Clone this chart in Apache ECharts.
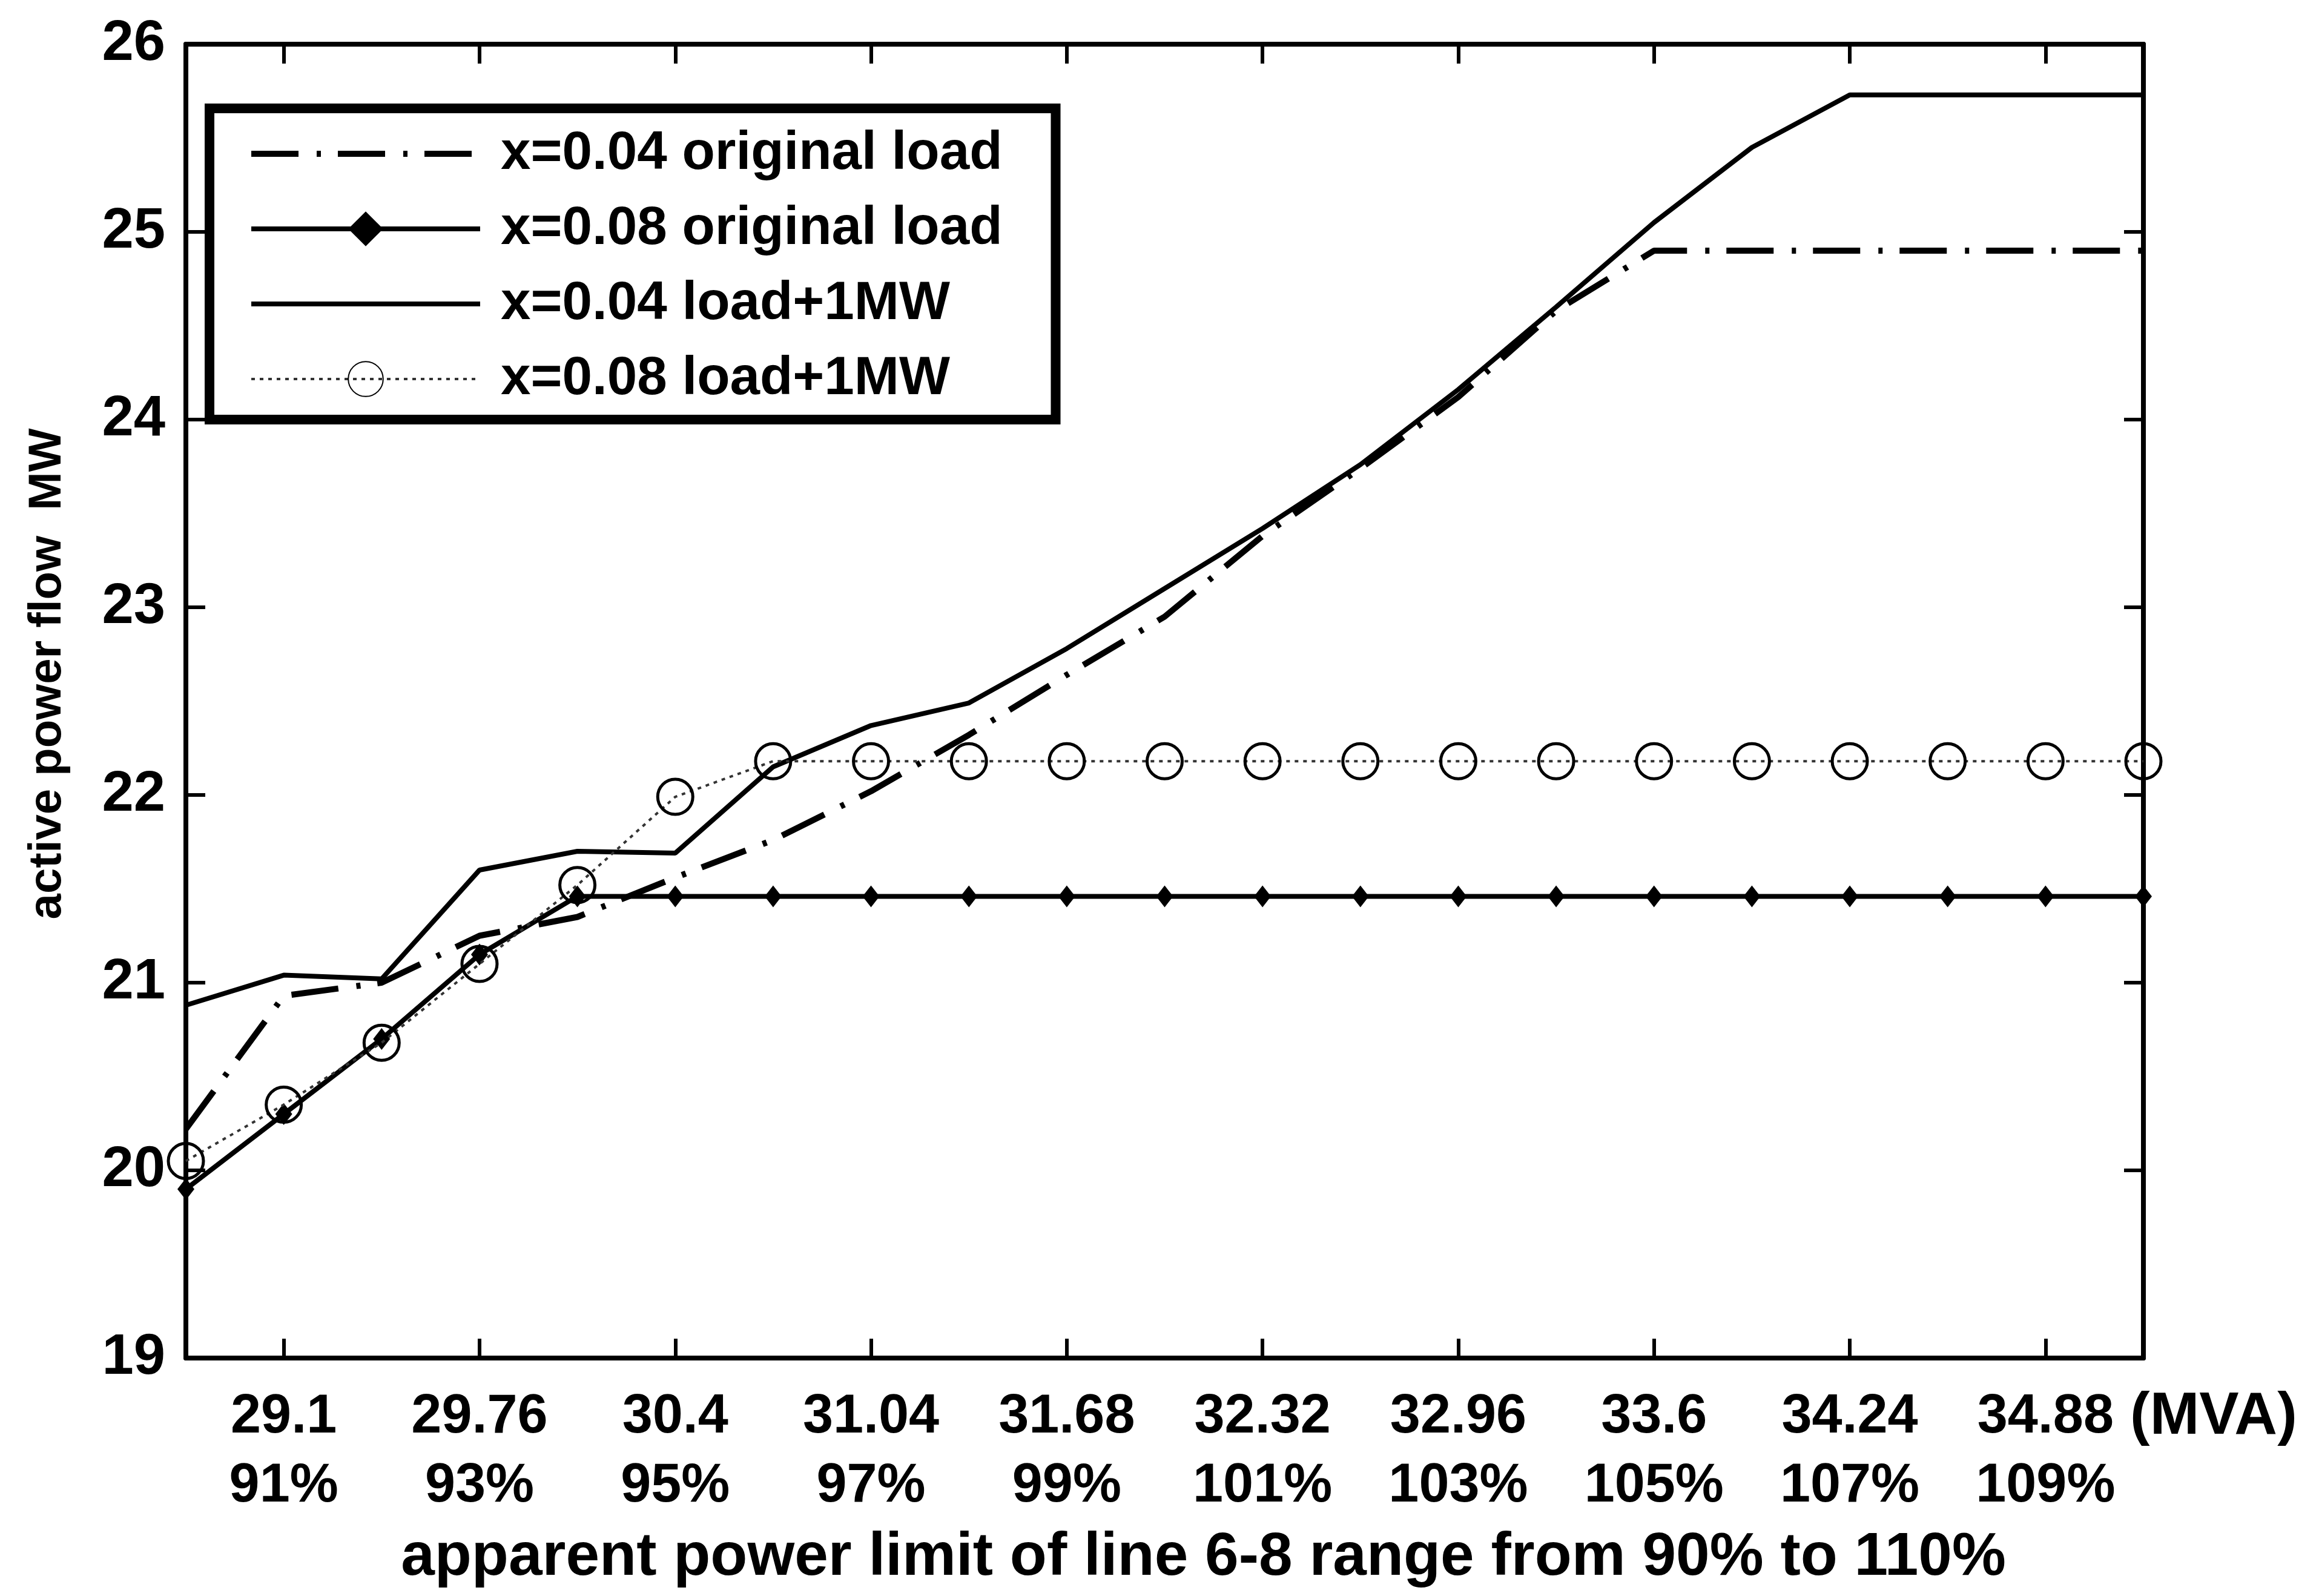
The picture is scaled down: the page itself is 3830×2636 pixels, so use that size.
<!DOCTYPE html>
<html>
<head>
<meta charset="utf-8">
<script src="https://cdn.jsdelivr.net/npm/echarts@6/dist/echarts.min.js"></script>
<style>
    html, body { margin: 0; padding: 0; background: #fff; }
    #chart { width: 3830px; height: 2636px; }
</style>
</head>
<body>
<div id="chart"></div>
<script>
// apparent power limit, percent of rating (one point per 1 %)
const pctPoints = [90, 91, 92, 93, 94, 95, 96, 97, 98, 99, 100,
    101, 102, 103, 104, 105, 106, 107, 108, 109, 110];

// tick labels, shown on every second point (91 %, 93 % ...)
const mvaTicks = ['29.1', '29.76', '30.4', '31.04', '31.68', '32.32', '32.96', '33.6', '34.24', '34.88'];
const pctTicks = ['91%', '93%', '95%', '97%', '99%', '101%', '103%', '105%', '107%', '109%'];

// active power flow, MW
const x004Original = [20.22, 20.93, 21.0, 21.25, 21.35, 21.56, 21.76, 22.02, 22.32, 22.64, 22.95,
    23.38, 23.74, 24.12, 24.58, 24.9, 24.9, 24.9, 24.9, 24.9, 24.9];
const x008Original = [19.9, 20.3, 20.7, 21.15, 21.46, 21.46, 21.46, 21.46, 21.46, 21.46, 21.46,
    21.46, 21.46, 21.46, 21.46, 21.46, 21.46, 21.46, 21.46, 21.46, 21.46];
const x004Plus1MW = [20.88, 21.04, 21.02, 21.6, 21.7, 21.69, 22.15, 22.37, 22.49, 22.78, 23.1,
    23.42, 23.76, 24.16, 24.6, 25.05, 25.45, 25.73, 25.73, 25.73, 25.73];
const x008Plus1MW = [20.05, 20.35, 20.68, 21.1, 21.52, 21.99, 22.18, 22.18, 22.18, 22.18, 22.18,
    22.18, 22.18, 22.18, 22.18, 22.18, 22.18, 22.18, 22.18, 22.18, 22.18];

const FONT = 'Liberation Sans';
const INK = '#000';

var chart = echarts.init(document.getElementById('chart'));

// only odd percents carry a tick and a label
function oddOnly(index) {
    return index % 2 === 1;
}

const frameLine = { show: true, onZero: false, lineStyle: { color: INK, width: 8 } };
const innerTick = { show: true, inside: true, length: 32, lineStyle: { color: INK, width: 6 } };

var option = {
    backgroundColor: '#fff',
    animation: false,
    grid: { left: 307, top: 73, width: 3233, height: 2170 },
    xAxis: [{
        type: 'category',
        data: pctPoints,
        boundaryGap: false,
        position: 'bottom',
        axisLine: frameLine,
        axisTick: Object.assign({ interval: oddOnly }, innerTick),
        axisLabel: {
            interval: oddOnly,
            margin: 41,
            color: INK,
            fontFamily: FONT,
            fontWeight: 'bold',
            fontSize: 90,
            lineHeight: 114,
            formatter: function (value, index) {
                const k = (index - 1) / 2;
                return mvaTicks[k] + '\n' + pctTicks[k];
            }
        },
        splitLine: { show: false },
        name: 'apparent power limit of line 6-8 range from 90% to 110%',
        nameLocation: 'middle',
        nameGap: 280,
        nameTextStyle: { color: INK, fontFamily: FONT, fontWeight: 'bold', fontSize: 100, padding: [0, 0, 0, 128] }
    }, {
        type: 'category',
        data: pctPoints,
        boundaryGap: false,
        position: 'top',
        axisLine: frameLine,
        axisTick: Object.assign({ interval: oddOnly }, innerTick),
        axisLabel: { show: false },
        splitLine: { show: false }
    }],
    yAxis: [{
        type: 'value',
        min: 19,
        max: 26,
        interval: 1,
        position: 'left',
        axisLine: frameLine,
        axisTick: innerTick,
        axisLabel: { margin: 34, color: INK, fontFamily: FONT, fontWeight: 'bold', fontSize: 94 },
        splitLine: { show: false },
        name: 'active power flow  MW',
        nameLocation: 'middle',
        nameRotate: 90,
        nameGap: 190,
        nameTextStyle: { color: INK, fontFamily: FONT, fontWeight: 'bold', fontSize: 76, padding: [0, 0, 0, 90] }
    }, {
        type: 'value',
        min: 19,
        max: 26,
        interval: 1,
        position: 'right',
        axisLine: frameLine,
        axisTick: innerTick,
        axisLabel: { show: false },
        splitLine: { show: false }
    }],
    legend: {
        orient: 'vertical',
        left: 346,
        top: 179,
        padding: [25, 88, 17, 64],
        itemWidth: 378,
        itemHeight: 72,
        itemGap: 24,
        borderColor: INK,
        borderWidth: 16,
        backgroundColor: '#fff',
        lineStyle: { width: 'inherit', type: 'inherit' },
        textStyle: { color: INK, fontFamily: FONT, fontWeight: 'bold', fontSize: 89, lineHeight: 100, padding: [0, 0, 0, 29] }
    },
    graphic: [{
        type: 'text',
        left: 3518,
        top: 2292,
        style: { text: '(MVA)', fill: INK, font: 'bold 98px "Liberation Sans"' }
    }],
    series: [{
        name: 'x=0.04 original load',
        type: 'line',
        data: x004Original,
        symbol: 'none',
        itemStyle: { color: 'transparent' },
        lineStyle: { color: INK, width: 10, type: [78, 30, 7, 28], cap: 'butt' },
        z: 2
    }, {
        name: 'x=0.08 original load',
        type: 'line',
        data: x008Original,
        symbol: 'diamond',
        symbolSize: [28, 36],
        itemStyle: { color: INK },
        lineStyle: { color: INK, width: 8 },
        z: 3
    }, {
        name: 'x=0.04 load+1MW',
        type: 'line',
        data: x004Plus1MW,
        symbol: 'none',
        itemStyle: { color: 'transparent' },
        lineStyle: { color: INK, width: 8 },
        z: 4
    }, {
        name: 'x=0.08 load+1MW',
        type: 'line',
        data: x008Plus1MW,
        symbol: 'circle',
        symbolSize: 58,
        itemStyle: { color: 'transparent', borderColor: INK, borderWidth: 5 },
        lineStyle: { color: '#333', width: 4, type: [6, 8] },
        z: 5
    }]
};
chart.setOption(option);
</script>
</body>
</html>
